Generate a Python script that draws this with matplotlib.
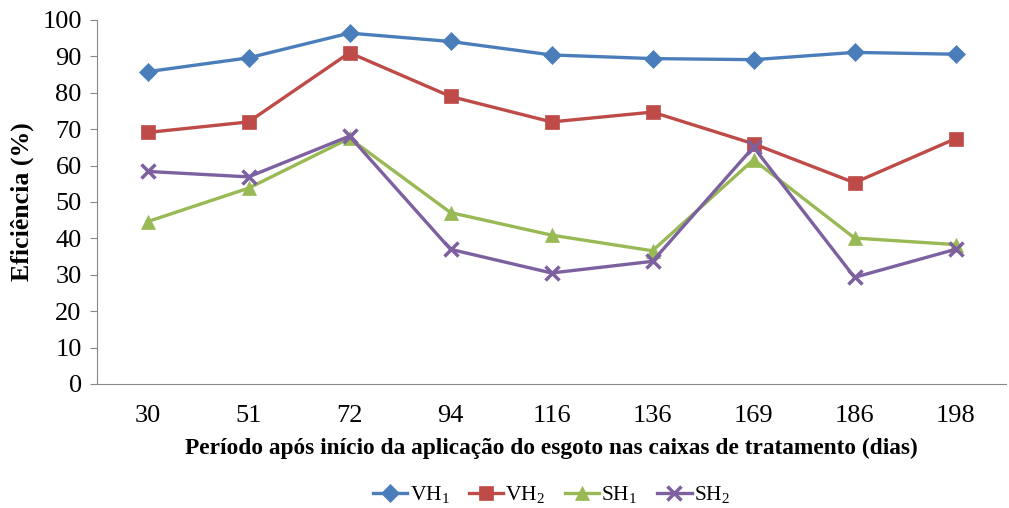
"""Eficiência de remoção por período - recreated chart"""
import matplotlib
matplotlib.use("Agg")
import matplotlib.pyplot as plt

plt.rcParams["font.family"] = ["Liberation Serif", "DejaVu Serif"]
plt.rcParams["mathtext.fontset"] = "custom"
plt.rcParams["mathtext.rm"] = "Liberation Serif"

## Data
dias = ["30", "51", "72", "94", "116", "136", "169", "186", "198"]
vh1 = [85.8, 89.6, 96.4, 94.1, 90.4, 89.4, 89.1, 91.1, 90.6]
vh2 = [69.1, 72.0, 91.0, 79.0, 72.0, 74.7, 66.0, 55.3, 67.4]
sh1 = [44.6, 53.8, 67.5, 47.1, 40.9, 36.6, 61.6, 40.1, 38.3]
sh2 = [58.4, 56.9, 68.1, 37.0, 30.5, 33.7, 65.1, 29.3, 37.0]

series = [
    (vh1, r"VH$_1$", "#4A7EBB", "D", 9),
    (vh2, r"VH$_2$", "#BE4B48", "s", 10),
    (sh1, r"SH$_1$", "#98B954", "^", 10),
    (sh2, r"SH$_2$", "#7D60A0", "x", 10),
]

fig = plt.figure(figsize=(10.09, 5.08), dpi=100)
ax = fig.add_axes([97 / 1009, 1 - 384 / 508, (1006 - 97) / 1009, (384 - 20) / 508])

x = list(range(len(dias)))
for vals, label, color, marker, ms in series:
    ax.plot(
        x, vals, color=color, linewidth=2.4, marker=marker, markersize=ms,
        markeredgewidth=2.5 if marker == "x" else 0.5, markeredgecolor=color,
        label=label,
    )

ax.set_xlim(-0.5, len(dias) - 0.5)
ax.set_ylim(0, 100)
ax.set_yticks(range(0, 101, 10))
ax.set_xticks(x)
ax.set_xticklabels(dias)
ax.tick_params(axis="y", direction="out", length=5, color="#888888", labelsize=19, pad=6)
ax.tick_params(axis="x", length=0, labelsize=19, pad=15)
for side in ["top", "right"]:
    ax.spines[side].set_visible(False)
for side in ["left", "bottom"]:
    ax.spines[side].set_color("#888888")

ax.set_ylabel("Eficiência (%)", fontsize=18.5, fontweight="bold", labelpad=6)
ax.set_xlabel(
    "Período após início da aplicação do esgoto nas caixas de tratamento (dias)",
    fontsize=16.8, fontweight="bold", labelpad=8,
)
ax.legend(
    loc="center", bbox_to_anchor=(0.5, -0.305), ncol=4, frameon=False,
    fontsize=15.5, handlelength=1.6, handletextpad=0.1, columnspacing=0.9,
)

fig.savefig("out.png", dpi=100)
